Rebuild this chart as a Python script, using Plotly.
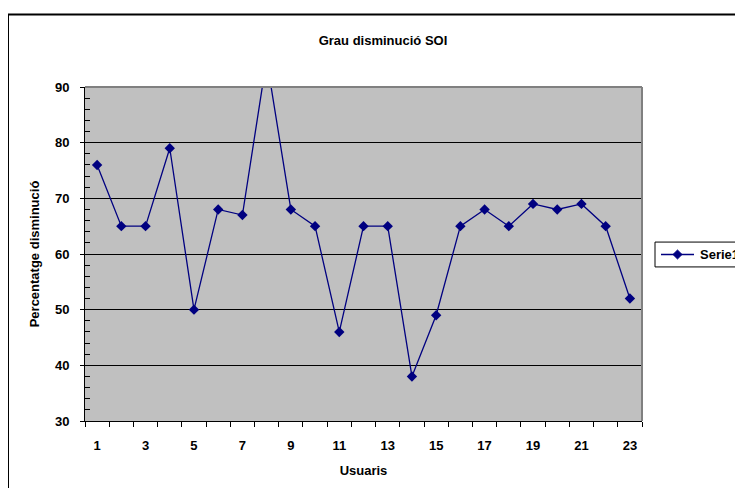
import plotly.graph_objects as go

usuaris = list(range(1, 24))
percentatge = [76, 65, 65, 79, 50, 68, 67, 95, 68, 65, 46, 65, 65, 38, 49, 65, 68, 65, 69, 68, 69, 65, 52]
x_tick_vals = [1, 3, 5, 7, 9, 11, 13, 15, 17, 19, 21, 23]
x_tick_text = [str(v) for v in x_tick_vals]
series_name = "Serie1"

OFF = 8  # page body margin
W, H = 743 - OFF, 496 - 2 * OFF
L, R, T, B = 85, 642, 87, 423  # plot area in screenshot pixels

font = dict(family="Liberation Sans, Arial", size=13, color="black", weight="bold")

fig = go.Figure()
fig.add_trace(go.Scatter(
    x=usuaris, y=percentatge, mode="lines+markers", name=series_name,
    line=dict(color="#000080", width=1.3),
    marker=dict(symbol="diamond", size=8, color="#000080"),
))

def px_x(p):
    return (p - L) / (R - L)

def px_y(p):
    return (B - p) / (B - T)

cx, cy, d = 677.5, 255.5, 4.5
diamond = (f"M {px_x(cx - d)} {px_y(cy)} L {px_x(cx)} {px_y(cy - d)} "
           f"L {px_x(cx + d)} {px_y(cy)} L {px_x(cx)} {px_y(cy + d)} Z")

shapes = [
    dict(type="rect", xref="paper", yref="paper",
         x0=px_x(8), x1=px_x(800), y0=px_y(560), y1=px_y(14),
         line=dict(color="black", width=2), fillcolor="rgba(0,0,0,0)", layer="below"),
    dict(type="line", xref="paper", yref="paper", x0=0, x1=1, y0=1, y1=1,
         line=dict(color="#808080", width=2)),
    dict(type="line", xref="paper", yref="paper", x0=1, x1=1, y0=0, y1=1,
         line=dict(color="#808080", width=2)),
    dict(type="rect", xref="paper", yref="paper",
         x0=px_x(655), x1=px_x(800), y0=px_y(268), y1=px_y(243),
         line=dict(color="black", width=1), fillcolor="rgba(0,0,0,0)"),
    dict(type="line", xref="paper", yref="paper",
         x0=px_x(661), x1=px_x(694), y0=px_y(cy), y1=px_y(cy),
         line=dict(color="#000080", width=1.3)),
    dict(type="path", xref="paper", yref="paper", path=diamond,
         fillcolor="#000080", line=dict(color="#000080", width=1)),
]

fig.update_layout(
    width=W, height=H,
    margin=dict(l=L - OFF, r=W - (R - OFF), t=T - OFF, b=H - (B - OFF)),
    paper_bgcolor="white", plot_bgcolor="#C0C0C0",
    font=font,
    showlegend=False,
    title=dict(text="Grau disminució SOI", x=(383 - OFF) / W, xanchor="center",
               y=1 - (40 - OFF) / H, yanchor="middle", font=dict(size=13, weight="bold")),
    shapes=shapes,
    annotations=[dict(text="Serie1", xref="paper", yref="paper",
                      x=px_x(698), y=px_y(cy), xanchor="left", yanchor="middle",
                      showarrow=False, font=dict(size=13, weight="bold"))],
)

fig.update_xaxes(
    range=[0.5, 23.5], tickmode="array", tickvals=x_tick_vals, ticktext=x_tick_text,
    ticks="", showgrid=False, zeroline=False,
    showline=True, linecolor="black", linewidth=1,
    tickfont=dict(size=13, weight="bold"), ticklabelstandoff=12,
    minor=dict(tickmode="linear", tick0=0.5, dtick=1, ticks="outside", ticklen=5,
               tickcolor="black", showgrid=False),
    title=dict(text="Usuaris", standoff=14, font=dict(size=13, weight="bold")),
)
fig.update_yaxes(
    range=[30, 90], tickmode="linear", tick0=30, dtick=10,
    ticks="outside", ticklen=4, tickcolor="black",
    showgrid=True, gridcolor="black", gridwidth=1, zeroline=False,
    showline=True, linecolor="black", linewidth=1,
    tickfont=dict(size=13, weight="bold"), ticklabelstandoff=8,
    minor=dict(tickmode="linear", tick0=30, dtick=2, ticks="inside", ticklen=5,
               tickcolor="black", showgrid=False),
    title=dict(text="Percentatge disminució", standoff=12, font=dict(size=13, weight="bold")),
)

fig.write_html("out.html")
